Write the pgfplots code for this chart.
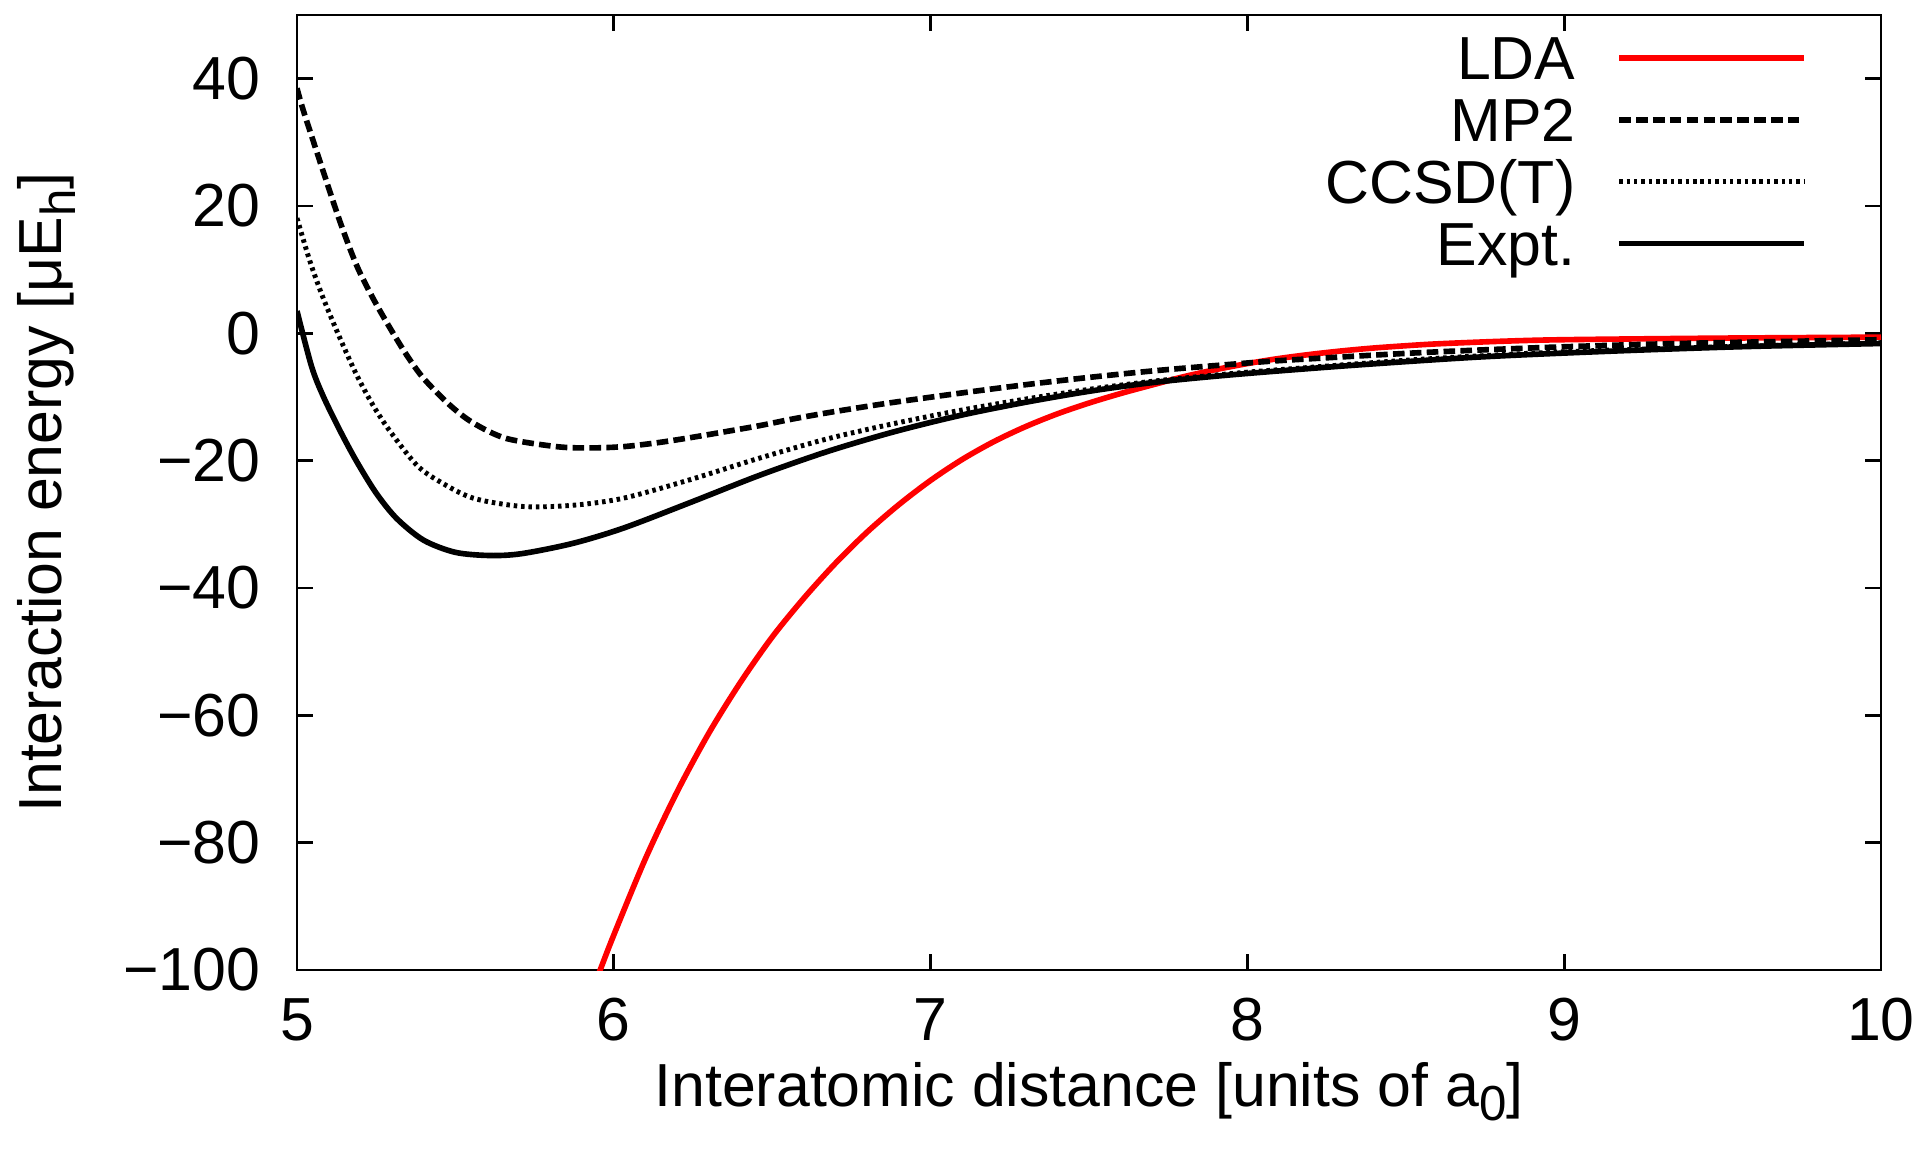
\documentclass[border=0pt]{standalone}
\usepackage{fontspec}
\setmainfont{Liberation Sans}
\usepackage{pgfplots}
\pgfplotsset{compat=1.18}
\newcommand{\fs}{\fontsize{17.3}{20.8}\selectfont}
\newcommand{\sub}[1]{\raisebox{-0.45ex}{\fontsize{14}{16}\selectfont #1}}
\begin{document}
\begin{tikzpicture}
\begin{axis}[
  scale only axis,
  width=15.84cm, height=9.55cm,
  xmin=5, xmax=10, ymin=-100, ymax=50,
  xtick={5,6,7,8,9,10},
  xticklabels={5,6,7,8,9,10},
  ytick={-100,-80,-60,-40,-20,0,20,40},
  yticklabels={−100,−80,−60,−40,−20,0,20,40},
  tick pos=both, tick align=inside,
  major tick length=0.16cm,
  axis line style={line width=0.8pt},
  every tick/.style={line width=0.8pt, black},
  xticklabel style={font=\fs, anchor=base, inner sep=0pt, yshift=-0.70cm},
  yticklabel style={font=\fs, anchor=east, inner sep=0pt, xshift=-0.36cm},
  xlabel={Interatomic distance [units of a\sub{0}]},
  ylabel={Interaction energy [μE\sub{h}]},
  xlabel style={font=\fs, at={(axis description cs:0.5,0)}, anchor=base, inner sep=0pt, yshift=-1.36cm},
  ylabel style={font=\fs, at={(axis description cs:-0.158,0.5)}, anchor=center, inner sep=0pt},
  legend plot pos=right,
  legend cell align=right,
  legend style={at={(axis description cs:1,1)}, anchor=north east, xshift=-0.74cm, yshift=-0.12cm,
    draw=none, fill=none, inner sep=0pt, outer sep=0pt, column sep=0.41cm, row sep=0pt,
    font=\fs, nodes={inner sep=0pt, text height=15.0pt, text depth=2.6pt}},
  legend image code/.code={\draw[#1] (0cm,0cm) -- (1.85cm,0cm);},
]
\addplot[red, line width=1.6pt, smooth] coordinates {
(5.90,-107.3) (5.957,-100) (6.0,-94.5) (6.1,-82.5) (6.2,-72.0) (6.3,-62.8) (6.4,-54.8)
(6.5,-47.7) (6.6,-41.6) (6.7,-36.1) (6.8,-31.2) (6.9,-26.9) (7.0,-23.1) (7.1,-19.8)
(7.2,-17.0) (7.3,-14.65) (7.4,-12.65) (7.5,-10.95) (7.6,-9.45) (7.7,-8.1) (7.8,-6.8)
(7.9,-5.7) (8.0,-4.75) (8.1,-3.95) (8.2,-3.3) (8.3,-2.75) (8.4,-2.3) (8.5,-1.95)
(8.6,-1.65) (8.8,-1.25) (9.0,-1.0) (9.5,-0.75) (10.0,-0.6)
};
\addlegendentry{LDA}
\addplot[black, line width=1.6pt, dash pattern=on 3.3pt off 1.5pt, smooth] coordinates {
(5.00,38.5) (5.02,35.0) (5.083,25.4) (5.136,17.5) (5.188,10.7) (5.24,5.5) (5.294,0.8)
(5.346,-3.4) (5.40,-7.1) (5.483,-11.3) (5.557,-14.1) (5.66,-16.5) (5.82,-17.8)
(5.925,-18.0) (6.03,-17.8) (6.135,-17.2) (6.24,-16.4) (6.346,-15.5) (6.46,-14.5)
(6.565,-13.45) (6.672,-12.5) (6.777,-11.65) (6.882,-10.85) (7.093,-9.4) (7.303,-8.05)
(7.514,-6.85) (7.724,-5.8) (7.977,-4.75) (8.13,-4.2) (8.54,-3.05) (8.95,-2.2)
(9.36,-1.6) (10.0,-1.0)
};
\addlegendentry{MP2}
\addplot[black, line width=1.4pt, dash pattern=on 1pt off 1.1pt, smooth] coordinates {
(5.00,18.1) (5.041,11.3) (5.083,5.5) (5.136,-0.8) (5.188,-6.5) (5.24,-11.3) (5.294,-15.4)
(5.378,-20.7) (5.451,-23.3) (5.557,-25.9) (5.714,-27.2) (5.872,-27.0) (6.03,-25.9)
(6.24,-23.0) (6.46,-19.6) (6.672,-16.6) (6.882,-14.2) (7.093,-12.1) (7.303,-10.3)
(7.514,-8.7) (7.724,-7.4) (7.977,-6.2) (8.13,-5.6) (8.54,-4.1) (8.95,-3.0)
(9.36,-2.3) (10.0,-1.5)
};
\addlegendentry{CCSD(T)}
\addplot[black, line width=1.6pt, smooth] coordinates {
(5.000,3.5) (5.046,-5.2) (5.083,-9.9) (5.136,-15.3) (5.188,-20.1) (5.25,-25.1)
(5.315,-29.1) (5.40,-32.5) (5.50,-34.4) (5.61,-34.9) (5.71,-34.6) (5.87,-33.0)
(6.03,-30.6) (6.24,-26.6) (6.46,-22.3) (6.672,-18.6) (6.882,-15.5) (7.093,-12.9)
(7.303,-10.8) (7.514,-9.0) (7.724,-7.6) (7.977,-6.4) (8.34,-5.0) (8.74,-3.7)
(9.15,-2.8) (9.56,-2.1) (10.0,-1.6)
};
\addlegendentry{Expt.}
\end{axis}
\pgfresetboundingbox
\path (-2.97cm,-1.84cm) rectangle (16.33cm,9.70cm);
\end{tikzpicture}
\end{document}
